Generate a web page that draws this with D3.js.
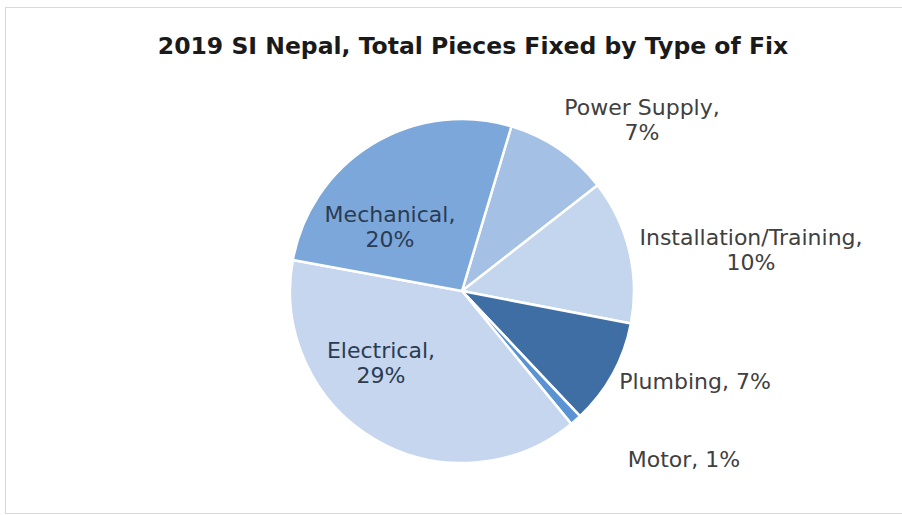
<!DOCTYPE html>
<html><head><meta charset="utf-8">
<script src="https://cdn.jsdelivr.net/npm/d3@7"></script>
<style>html,body{margin:0;padding:0;background:#fff;}svg{display:block;}</style>
</head><body>
<svg id="c" width="902" height="515"></svg>
<script>
const title = "2019 SI Nepal, Total Pieces Fixed by Type of Fix";
const categories = ["Power Supply", "Installation/Training", "Plumbing", "Motor", "Electrical", "Mechanical"];
const values = [7.3, 10.1, 7.4, 0.8, 28.9, 19.9];
const colors = ["#a4c0e5", "#c4d5ee", "#3f6ea5", "#5a93d3", "#c5d6ee", "#7ca7da"];

// label layout (per category): lines and anchor positions
const labelLayout = {
  "Power Supply":          {lines: 2, x: 642, y: 107, inside: false},
  "Installation/Training": {lines: 2, x: 751, y: 237, inside: false},
  "Plumbing":              {lines: 1, x: 695, y: 381, inside: false},
  "Motor":                 {lines: 1, x: 684, y: 459, inside: false},
  "Electrical":            {lines: 2, x: 381, y: 350, inside: true},
  "Mechanical":            {lines: 2, x: 390, y: 214, inside: true}
};

const svg = d3.select("#c");
const cx = 462, cy = 291, R = 172;
const FONT = "'DejaVu Sans', Verdana, sans-serif";

svg.append("rect").attr("x", 5.5).attr("y", 7.5).attr("width", 1000).attr("height", 506)
  .attr("fill", "#fff").attr("stroke", "#d9d9d9").attr("stroke-width", 1);

svg.append("text").attr("x", 473).attr("y", 54).attr("text-anchor", "middle")
  .attr("font-family", FONT).attr("font-weight", "bold").attr("font-size", 23.5)
  .attr("fill", "#1a1a1a").text(title);

const data = categories.map((c, i) => ({cat: c, value: values[i], color: colors[i]}));
const start = 16.7 * Math.PI / 180;
const pie = d3.pie().sort(null).value(d => d.value).startAngle(start).endAngle(start + 2 * Math.PI);
const arc = d3.arc().innerRadius(0).outerRadius(R);

const g = svg.append("g").attr("transform", `translate(${cx},${cy})`);
g.selectAll("path").data(pie(data)).join("path")
  .attr("d", arc).attr("fill", d => d.data.color)
  .attr("stroke", "#fff").attr("stroke-width", 2.5).attr("stroke-linejoin", "round");

const fmt = v => d3.format(".0f")(v) + "%";
const lh = 25;
data.forEach(d => {
  const L = labelLayout[d.cat];
  const t = svg.append("text").attr("text-anchor", "middle")
    .attr("font-family", FONT).attr("font-size", 22)
    .attr("fill", L.inside ? "#2b3b52" : "#404040");
  if (L.lines === 2) {
    t.append("tspan").attr("x", L.x).attr("y", L.y).attr("dy", "0.35em").text(d.cat + ",");
    t.append("tspan").attr("x", L.x).attr("y", L.y + lh).attr("dy", "0.35em").text(fmt(d.value));
  } else {
    t.append("tspan").attr("x", L.x).attr("y", L.y).attr("dy", "0.35em").text(d.cat + ", " + fmt(d.value));
  }
});
</script>
</body></html>
